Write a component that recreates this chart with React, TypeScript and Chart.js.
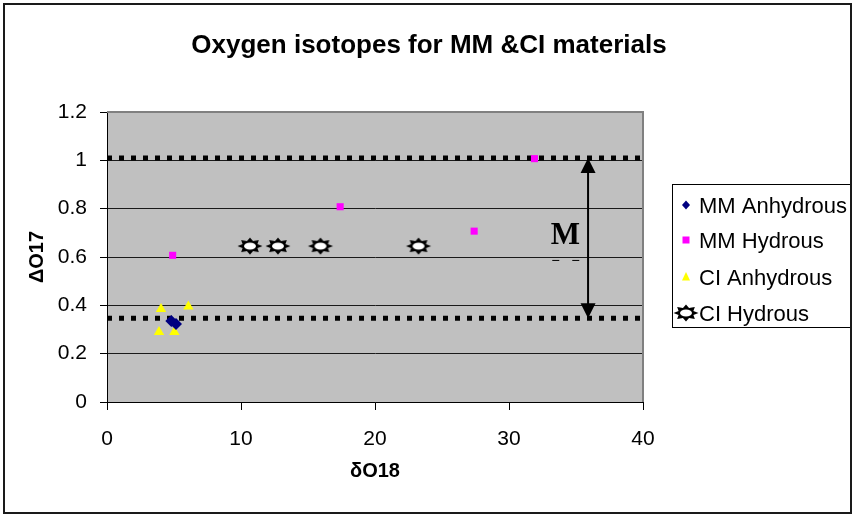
import React, { useEffect, useRef } from 'react';
import { Chart, registerables } from 'chart.js';

Chart.register(...registerables);

// ---- Data ----
const chartTitle = 'Oxygen isotopes for MM &CI materials';
const xAxisTitle = 'δO18';
const yAxisTitle = 'ΔO17';
const seriesNames = ['MM Anhydrous', 'MM Hydrous', 'CI Anhydrous', 'CI Hydrous'];

const mmAnhydrousX = [4.8, 5.15];
const mmAnhydrousY = [0.335, 0.323];
const mmHydrousX = [4.9, 17.4, 27.4, 31.9];
const mmHydrousY = [0.607, 0.808, 0.707, 1.007];
const ciAnhydrousX = [4.03, 6.07, 3.88, 5.03];
const ciAnhydrousY = [0.385, 0.395, 0.29, 0.29];
const ciHydrousX = [10.67, 12.76, 15.93, 23.25];
const ciHydrousY = [0.645, 0.645, 0.645, 0.645];

const boundLevels = [1.01, 0.347];
const xRange = [0, 40];
const yRange = [0, 1.2];
const xTicks = [0, 10, 20, 30, 40];
const yTicks = [0, 0.2, 0.4, 0.6, 0.8, 1, 1.2];
const yTickLabels = ['0', '0.2', '0.4', '0.6', '0.8', '1', '1.2'];

const arrowX = 35.9;
const annotationText = 'M';
const annotationX = 34.2;
const annotationY = 0.654;

const FONT = '"Liberation Sans", Arial, Helvetica, sans-serif';

function zip(xs: number[], ys: number[]) {
  return xs.map((x, i) => ({ x, y: ys[i] }));
}

function makeStar(): HTMLCanvasElement {
  const c = document.createElement('canvas');
  c.width = 28;
  c.height = 20;
  const g = c.getContext('2d')!;
  const cx = 14, cy = 10;
  g.beginPath();
  const n = 8;
  for (let i = 0; i < n * 2; i++) {
    const ang = (Math.PI * i) / n;
    const outer = i % 2 === 0;
    const rx = outer ? 12.5 : 8;
    const ry = outer ? 8.5 : 5.5;
    const px = cx + Math.cos(ang) * rx;
    const py = cy + Math.sin(ang) * ry;
    if (i === 0) g.moveTo(px, py);
    else g.lineTo(px, py);
  }
  g.closePath();
  g.fillStyle = '#000';
  g.fill();
  g.beginPath();
  g.ellipse(cx, cy, 6, 3.5, 0, 0, Math.PI * 2);
  g.fillStyle = '#fff';
  g.fill();
  return c;
}

export default function App() {
  const ref = useRef<HTMLCanvasElement>(null);

  useEffect(() => {
    const canvas = ref.current!;
    const star = makeStar();

    const decor = {
      id: 'decor',
      beforeDraw(chart: any) {
        const { ctx, chartArea: a } = chart;
        ctx.save();
        ctx.fillStyle = '#fff';
        ctx.fillRect(0, 0, chart.width, chart.height);
        ctx.fillStyle = '#C0C0C0';
        ctx.fillRect(a.left, a.top, a.right - a.left, a.bottom - a.top);
        ctx.restore();
      },
      beforeDatasetsDraw(chart: any) {
        const { ctx, chartArea: a } = chart;
        ctx.save();
        ctx.strokeStyle = '#808080';
        ctx.lineWidth = 2;
        ctx.beginPath();
        ctx.moveTo(a.left, a.top);
        ctx.lineTo(a.right, a.top);
        ctx.lineTo(a.right, a.bottom);
        ctx.stroke();
        ctx.restore();
      },
      afterDraw(chart: any) {
        const { ctx } = chart;
        const xs = chart.scales.x;
        const ys = chart.scales.y;
        ctx.save();
        // title
        ctx.fillStyle = '#000';
        ctx.font = `bold 26px ${FONT}`;
        ctx.textAlign = 'center';
        ctx.textBaseline = 'alphabetic';
        ctx.fillText(chartTitle, 429, 53);

        // arrow
        const ax = xs.getPixelForValue(arrowX);
        const yTop = ys.getPixelForValue(boundLevels[0]);
        const yBot = ys.getPixelForValue(boundLevels[1]);
        const head = 15;
        const hw = 7.5;
        ctx.strokeStyle = '#000';
        ctx.fillStyle = '#000';
        ctx.lineWidth = 2;
        ctx.beginPath();
        ctx.moveTo(ax, yTop + head - 1);
        ctx.lineTo(ax, yBot - head + 1);
        ctx.stroke();
        ctx.beginPath();
        ctx.moveTo(ax, yTop);
        ctx.lineTo(ax - hw, yTop + head);
        ctx.lineTo(ax + hw, yTop + head);
        ctx.closePath();
        ctx.fill();
        ctx.beginPath();
        ctx.moveTo(ax, yBot);
        ctx.lineTo(ax - hw, yBot - head);
        ctx.lineTo(ax + hw, yBot - head);
        ctx.closePath();
        ctx.fill();

        // annotation
        const mx = xs.getPixelForValue(annotationX);
        const my = ys.getPixelForValue(annotationY);
        ctx.font = `bold 31px "Liberation Serif", "Times New Roman", serif`;
        ctx.textAlign = 'center';
        ctx.fillText(annotationText, mx, my);
        ctx.lineWidth = 1;
        ctx.beginPath();
        ctx.moveTo(mx - 13, my + 16.5);
        ctx.lineTo(mx - 6, my + 16.5);
        ctx.moveTo(mx + 7, my + 16.5);
        ctx.lineTo(mx + 14, my + 16.5);
        ctx.stroke();

        // legend
        ctx.fillStyle = '#fff';
        ctx.fillRect(672, 184, 179, 144);
        ctx.strokeStyle = '#000';
        ctx.lineWidth = 1;
        ctx.strokeRect(672.5, 184.5, 178, 143);
        const rows = [205, 240, 277, 313];
        const mxl = 686;
        // diamond
        ctx.fillStyle = '#000080';
        ctx.beginPath();
        ctx.moveTo(mxl, rows[0] - 4.5);
        ctx.lineTo(mxl + 4, rows[0]);
        ctx.lineTo(mxl, rows[0] + 4.5);
        ctx.lineTo(mxl - 4, rows[0]);
        ctx.closePath();
        ctx.fill();
        // square
        ctx.fillStyle = '#FF00FF';
        ctx.fillRect(mxl - 3.5, rows[1] - 3.5, 7, 7);
        // triangle
        ctx.fillStyle = '#FFFF00';
        ctx.beginPath();
        ctx.moveTo(mxl, rows[2] - 5);
        ctx.lineTo(mxl + 4, rows[2] + 3.5);
        ctx.lineTo(mxl - 4, rows[2] + 3.5);
        ctx.closePath();
        ctx.fill();
        // star
        ctx.drawImage(star, mxl - 14, rows[3] - 10);
        ctx.fillStyle = '#000';
        ctx.font = `22px ${FONT}`;
        ctx.textAlign = 'left';
        ctx.textBaseline = 'alphabetic';
        seriesNames.forEach((n, i) => ctx.fillText(n, 699, rows[i] + 8));

        // outer border
        ctx.strokeStyle = '#1a1a1a';
        ctx.lineWidth = 2;
        ctx.strokeRect(4, 4, 847, 509);
        ctx.restore();
      },
    };

    const chart = new Chart(canvas, {
      type: 'scatter',
      data: {
        datasets: [
          {
            label: seriesNames[0],
            data: zip(mmAnhydrousX, mmAnhydrousY),
            pointStyle: 'rectRot',
            pointRadius: 6,
            backgroundColor: '#000080',
            borderColor: '#000080',
            borderWidth: 0,
            order: 1,
          },
          {
            label: seriesNames[1],
            data: zip(mmHydrousX, mmHydrousY),
            pointStyle: 'rect',
            pointRadius: 5,
            backgroundColor: '#FF00FF',
            borderColor: '#FF00FF',
            borderWidth: 0,
            order: 2,
          },
          {
            label: seriesNames[2],
            data: zip(ciAnhydrousX, ciAnhydrousY),
            pointStyle: 'triangle',
            pointRadius: 6,
            backgroundColor: '#FFFF00',
            borderColor: '#FFFF00',
            borderWidth: 0,
            order: 3,
          },
          {
            label: seriesNames[3],
            data: zip(ciHydrousX, ciHydrousY),
            pointStyle: star as any,
            pointRadius: 10,
            order: 4,
          },
          ...boundLevels.map((lvl) => ({
            label: 'bound',
            data: [
              { x: xRange[0], y: lvl },
              { x: xRange[1], y: lvl },
            ],
            showLine: true,
            borderColor: '#000',
            borderWidth: 5,
            borderDash: [5, 7],
            borderCapStyle: 'butt' as const,
            pointRadius: 0,
            order: 10,
          })),
        ],
      },
      options: {
        animation: false,
        responsive: false,
        devicePixelRatio: 1,
        events: [],
        layout: { padding: { left: 0, top: 112, right: 212, bottom: 0 } },
        plugins: {
          legend: { display: false },
          title: { display: false },
          tooltip: { enabled: false },
        },
        scales: {
          x: {
            type: 'linear',
            min: xRange[0],
            max: xRange[1],
            afterBuildTicks: (s: any) => {
              s.ticks = xTicks.map((v) => ({ value: v }));
            },
            afterFit: (s: any) => {
              s.height = 116;
            },
            ticks: {
              color: '#000',
              font: { family: FONT, size: 21 },
              padding: 17,
              maxRotation: 0,
            },
            grid: {
              drawOnChartArea: false,
              drawTicks: true,
              tickLength: 8,
              tickColor: '#000',
              tickWidth: 1,
            },
            border: { color: '#000', width: 1 },
            title: {
              display: true,
              text: xAxisTitle,
              color: '#000',
              font: { family: FONT, size: 20, weight: 'bold' },
              padding: { top: 0, bottom: 35 },
            },
          },
          y: {
            type: 'linear',
            min: yRange[0],
            max: yRange[1],
            afterBuildTicks: (s: any) => {
              s.ticks = yTicks.map((v) => ({ value: v }));
            },
            afterFit: (s: any) => {
              s.width = 107;
            },
            ticks: {
              color: '#000',
              font: { family: FONT, size: 21 },
              padding: 13,
              callback: (_v: any, i: number) => yTickLabels[i],
            },
            grid: {
              color: '#1a1a1a',
              lineWidth: 1,
              drawTicks: true,
              tickLength: 7,
              tickColor: '#000',
              tickWidth: 1,
            },
            border: { color: '#000', width: 1 },
            title: {
              display: true,
              text: yAxisTitle,
              color: '#000',
              font: { family: FONT, size: 20, weight: 'bold' },
              padding: { top: 25, bottom: 0 },
            },
          },
        },
      },
      plugins: [decor],
    } as any);

    return () => chart.destroy();
  }, []);

  return (
    <div style={{ position: 'absolute', left: 0, top: 0, width: 855, height: 518 }}>
      <canvas ref={ref} width={855} height={518} style={{ display: 'block' }} />
    </div>
  );
}
